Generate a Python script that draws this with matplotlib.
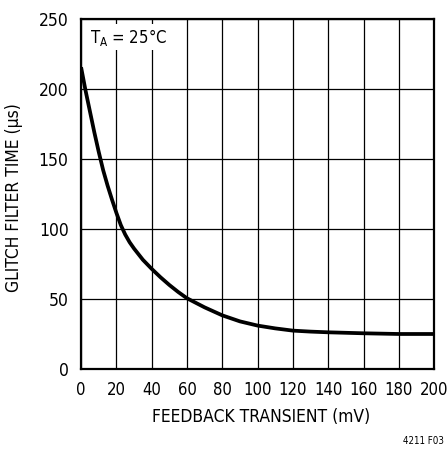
import matplotlib.pyplot as plt

plt.rcParams['font.family'] = ['DejaVu Sans']
plt.rcParams['font.stretch'] = 'condensed'

# values
transient_mv = [0, 2.5, 5, 7.5, 10, 12.5, 15, 17.5, 20, 22.5, 25, 27.5, 30,
                35, 40, 45, 50, 55, 60, 70, 80, 90, 100, 110, 120, 130, 140,
                160, 180, 200]
filter_time_us = [215.5, 199, 184, 169, 155, 142, 131, 121, 111.5, 102.8,
                  96, 90.5, 86, 78, 71.5, 65.5, 60, 55, 50.5, 44, 38.3, 34,
                  31, 29, 27.4, 26.7, 26.2, 25.5, 25, 25]

x_ticks = list(range(0, 201, 20))
y_ticks = list(range(0, 251, 50))

fig = plt.figure(figsize=(4.48, 4.50), dpi=100)
ax = fig.add_axes([0.181, 0.18, 0.788, 0.778])

ax.plot(transient_mv, filter_time_us, color='black', lw=2.7,
        solid_capstyle='butt', solid_joinstyle='round', zorder=3)

ax.set_xlim(0, 200)
ax.set_ylim(0, 250)
ax.set_xticks(x_ticks)
ax.set_yticks(y_ticks)
ax.grid(True, color='black', lw=0.9)
ax.tick_params(axis='x', length=0, labelsize=12, pad=8.5)
ax.tick_params(axis='y', length=0, labelsize=12.5, pad=9)
for s in ax.spines.values():
    s.set_linewidth(1.6)

ax.set_xlabel('FEEDBACK TRANSIENT (mV)', fontsize=12.5, va='center')
ax.set_ylabel('GLITCH FILTER TIME (μs)', fontsize=12.5, va='center')
ax.xaxis.set_label_coords(0.51, -0.137)
ax.yaxis.set_label_coords(-0.19, 0.49)

ax.text(5, 237, r'T$_\mathregular{A}$ = 25°C', fontsize=12, va='center',
        ha='left', bbox=dict(facecolor='white', edgecolor='none', pad=2),
        zorder=4)

fig.text(0.99, 0.02, '4211 F03', fontsize=7, ha='right', va='center')

fig.savefig('out.png', dpi=100)
